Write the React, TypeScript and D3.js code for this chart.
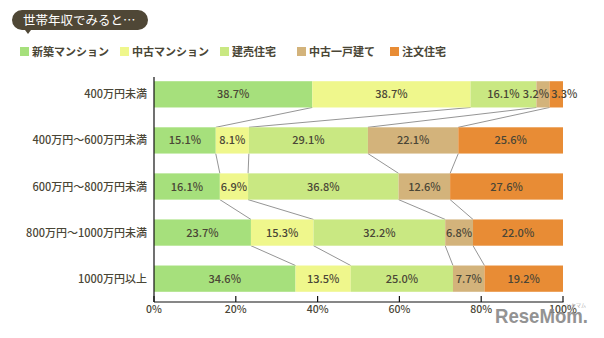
import React from "react";
import * as d3 from "d3";

const categories = ["400万円未満", "400万円〜600万円未満", "600万円〜800万円未満", "800万円〜1000万円未満", "1000万円以上"];
const seriesNames = ["新築マンション", "中古マンション", "建売住宅", "中古一戸建て", "注文住宅"];
const seriesColors = ["#a6e07c", "#eff78c", "#c9e882", "#d3b37b", "#e88c35"];
const newMansion = [38.7, 15.1, 16.1, 23.7, 34.6];
const usedMansion = [38.7, 8.1, 6.9, 15.3, 13.5];
const builtForSale = [16.1, 29.1, 36.8, 32.2, 25.0];
const usedHouse = [3.2, 22.1, 12.6, 6.8, 7.7];
const customHouse = [3.3, 25.6, 27.6, 22.0, 19.2];
const xTicks = [0, 20, 40, 60, 80, 100];

const W = 604, H = 338;
const FONT = "'Noto Sans CJK JP', 'Noto Sans', sans-serif";
const TEXT = "#4a4636";

export default function App() {
  const series = [newMansion, usedMansion, builtForSale, usedHouse, customHouse];
  const x = d3.scaleLinear().domain([0, 100]).range([154, 563]);
  const y = d3.scaleBand().domain(categories).range([72, 301]).paddingInner(0.43).paddingOuter(0.2);
  const bh = y.bandwidth();

  const rows = categories.map((c, i) => {
    const vals = series.map((s) => s[i]);
    let acc = 0;
    const segs = vals.map((v, k) => {
      const s0 = acc;
      acc += v;
      return { k, v, s0, s1: acc };
    });
    return { c, segs };
  });

  // label nudges for crowded small segments
  const labelShift = (ri: number, k: number) => {
    if (ri === 0 && k === 3) return -7;
    if (ri === 0 && k === 4) return 8;
    return 0;
  };

  const legendX = [20, 120, 220, 297, 390];

  return (
    <svg width={W} height={H} style={{ position: "absolute", left: 0, top: 0, background: "#fff" }} fontFamily={FONT}>
      {/* title badge */}
      <path d="M22,10 H138 a10,10 0 0 1 0,20 H31 l-3,4 l-3,-4 H22 a10,10 0 0 1 0,-20 Z" fill="#4f4736" />
      <text x={23} y={24.5} fill="#fff" fontSize={12.5}>世帯年収でみると…</text>

      {/* legend */}
      {seriesNames.map((n, k) => (
        <g key={n}>
          <rect x={legendX[k]} y={47} width={9} height={9} fill={seriesColors[k]} />
          <text x={legendX[k] + 12} y={55.5} fontSize={11} fontWeight={700} fill={TEXT}>{n}</text>
        </g>
      ))}

      {/* connector lines */}
      {rows.slice(0, -1).map((r, ri) =>
        r.segs.slice(0, 4).map((s, k) => (
          <line key={`l${ri}-${k}`}
            x1={x(s.s1)} y1={(y(r.c) as number) + bh}
            x2={x(rows[ri + 1].segs[k].s1)} y2={y(rows[ri + 1].c) as number}
            stroke="#7a7a7a" strokeWidth={0.8} />
        ))
      )}

      {/* bars */}
      {rows.map((r, ri) => (
        <g key={r.c}>
          {r.segs.map((s) => (
            <rect key={s.k} x={x(s.s0)} y={y(r.c)} width={x(s.s1) - x(s.s0)} height={bh} fill={seriesColors[s.k]} />
          ))}
          {r.segs.map((s) => (
            <text key={`t${s.k}`} x={(x(s.s0) + x(s.s1)) / 2 + labelShift(ri, s.k)} y={(y(r.c) as number) + bh / 2 + 4}
              textAnchor="middle" fontSize={11} fontWeight={500} fill={TEXT}>{s.v.toFixed(1)}%</text>
          ))}
          <text x={147} y={(y(r.c) as number) + bh / 2 + 4} textAnchor="end" fontSize={11} fontWeight={500} fill={TEXT}>{r.c}</text>
        </g>
      ))}

      {/* axes */}
      <line x1={154} y1={77} x2={154} y2={302} stroke="#111" strokeWidth={1.2} />
      <line x1={154} y1={302} x2={563.5} y2={302} stroke="#111" strokeWidth={1.2} />
      {xTicks.map((t) => (
        <g key={t}>
          <line x1={x(t)} y1={296} x2={x(t)} y2={302} stroke="#111" strokeWidth={1.2} />
          <text x={x(t)} y={313} textAnchor="middle" fontSize={10.5} fontWeight={500} fill={TEXT}>{t}%</text>
        </g>
      ))}

      {/* watermark */}
      <text x={495} y={323} fontSize={21} fontWeight={700} fill="#8a8a8a" fontFamily="'Liberation Sans', sans-serif"
        textLength={93} lengthAdjust="spacingAndGlyphs" opacity={0.92}>ReseMom.</text>
      <text x={566} y={307} fontSize={5} fill="#aaa">リセマム</text>
    </svg>
  );
}
